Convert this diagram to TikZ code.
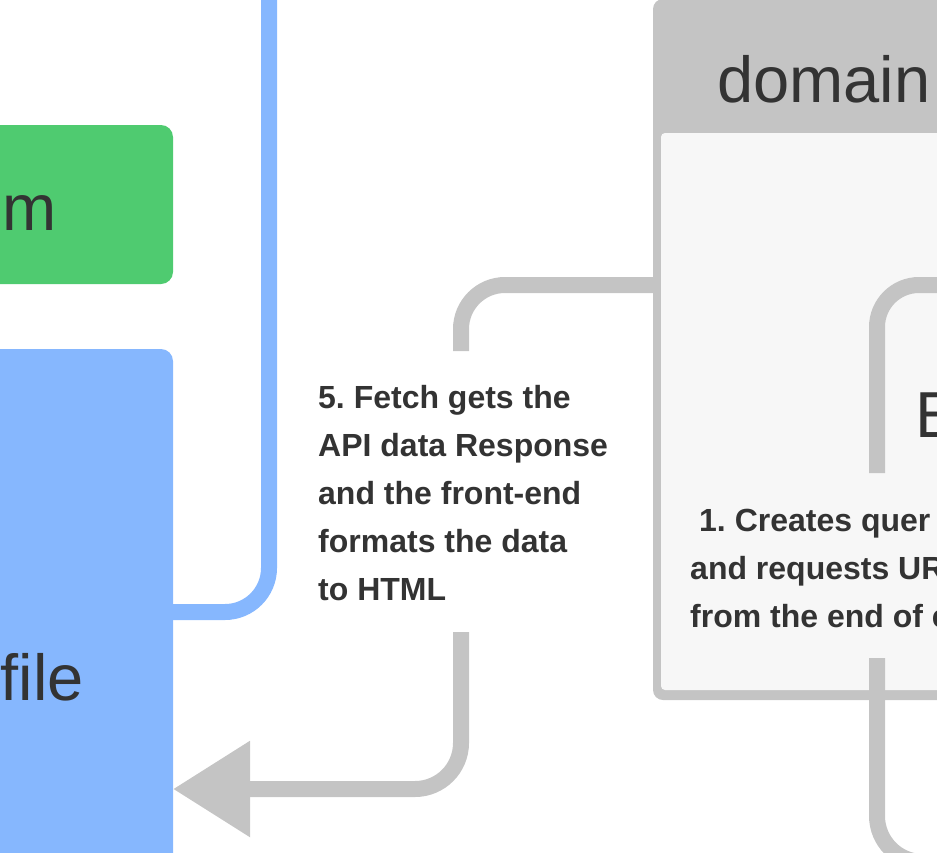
\documentclass[tikz,border=0pt]{standalone}
\usepackage{fontspec}
\setmainfont{Liberation Sans}
\usepackage{tikz}
\usetikzlibrary{positioning, arrows.meta}
\definecolor{flow-green}{HTML}{4FCB70}
\definecolor{flow-blue}{HTML}{86B7FE}
\definecolor{flow-gray}{HTML}{C4C4C4}
\definecolor{flow-light}{HTML}{F7F7F7}
\definecolor{flow-dark}{HTML}{333333}
\frenchspacing

\begin{document}
\begin{tikzpicture}[
    x=1pt, y=-1pt,
    block/.style={rounded corners=12pt, inner sep=0pt, outer sep=0pt},
    bigtext/.style={font=\fontsize{65}{78}\selectfont, text=flow-dark, inner sep=0pt},
    steptext/.style={font=\fontsize{32}{48}\selectfont\bfseries, text=flow-dark, align=left, inner sep=0pt},
    graylink/.style={draw=flow-gray, line width=16pt},
    bluelink/.style={draw=flow-blue, line width=16pt},
]
    \useasboundingbox (0,0) rectangle (937,852);
    \clip (0,0) rectangle (937,852);

    % Page boxes (left side)
    \node[block, fill=flow-green, minimum width=473pt, minimum height=159pt, anchor=north east] (formbox) at (173,125) {};
    \node[block, fill=flow-blue, minimum width=473pt, minimum height=600pt, anchor=north east] (filebox) at (173,349) {};
    \node[bigtext, anchor=base east] (formlabel) at (57,230) {m};
    \node[bigtext, anchor=base east] (filelabel) at (84,700) {file};

    % Domain box
    \node[block, rounded corners=10pt, fill=flow-gray, minimum width=400pt, minimum height=701pt, anchor=north west] (domainbox) at (653,-1) {};
    \node[block, rounded corners=4pt, fill=flow-light, minimum width=400pt, minimum height=557pt, anchor=north west] (domainbody) at (661,133) {};
    \node[bigtext, anchor=base west] (domainlabel) at (717,102) {domain};

    % Blue link into the file
    \coordinate (bluetop) at (269,-20);
    \draw[bluelink, rounded corners=44pt] (bluetop) |- ([yshift=-263pt]filebox.north east);

    % Step 5 (response back to the file)
    \coordinate (fetchin) at (461,351);
    \draw[graylink, rounded corners=44pt] ([yshift=-286pt]domainbox.north west) -| (fetchin);
    \node[steptext, anchor=base west] (fetchtext) at (318,600)
        {5. Fetch gets the\\API data Response\\and the front-end\\formats the data\\to HTML};
    \coordinate (fetchout) at (461,632);
    \draw[graylink, rounded corners=46pt, -{Triangle[length=77pt, width=92pt]}]
        (fetchout) |- ([yshift=-440pt]filebox.north east);

    % Inside the domain box
    \coordinate (querytop) at (877,473);
    \coordinate (queryright) at (980,285);
    \draw[graylink, rounded corners=42pt] (querytop) |- (queryright);
    \node[bigtext, anchor=base west] (endlabel) at (915,437) {E};
    \node[steptext, anchor=base west] (querytext) at (690,627)
        {\hspace{9pt}1. Creates quer\\and requests UR\\from the end of e};
    \coordinate (querybottom) at (877,658);
    \coordinate (queryexit) at (990,862);
    \draw[graylink, rounded corners=46pt] (querybottom) |- (queryexit);

\end{tikzpicture}
\end{document}
